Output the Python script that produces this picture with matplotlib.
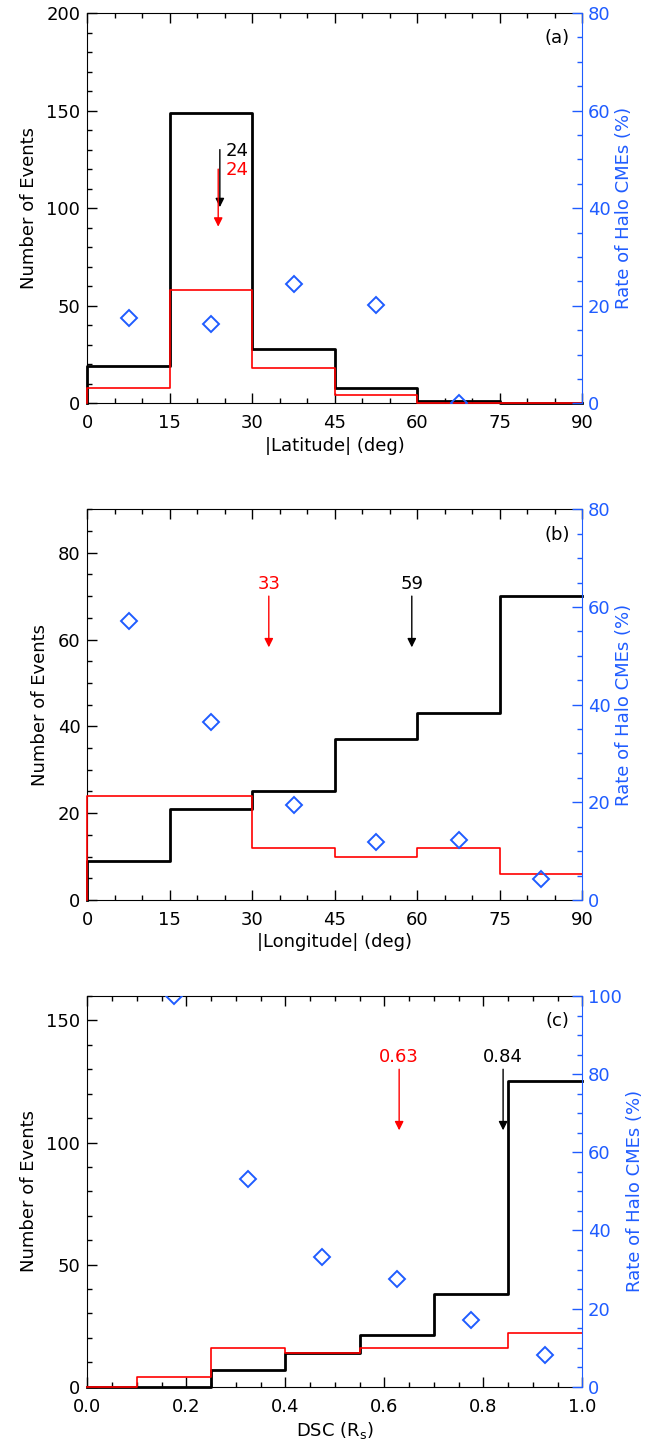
import numpy as np
import matplotlib.pyplot as plt
from matplotlib.ticker import MultipleLocator

plt.rcParams['font.family'] = 'DejaVu Sans'
plt.rcParams['font.size'] = 13

blue = '#1f5cff'

#===================== data ===================================================

# (a) |Latitude|
lat_edges = [0, 15, 30, 45, 60, 75, 90]
lat_all = [19, 149, 28, 8, 1, 0]
lat_halo = [8, 58, 18, 4, 0, 0]
lat_mid = [7.5, 22.5, 37.5, 52.5, 67.5]
lat_rate = [17.4, 16.3, 24.4, 20.1, 0]

# (b) |Longitude|
lon_edges = [0, 15, 30, 45, 60, 75, 90]
lon_all = [9, 21, 25, 37, 43, 70]
lon_halo = [24, 24, 12, 10, 12, 6]
lon_mid = [7.5, 22.5, 37.5, 52.5, 67.5, 82.5]
lon_rate = [57.1, 36.4, 19.4, 11.9, 12.3, 4.2]

# (c) DSC
dsc_edges = [0, 0.1, 0.25, 0.4, 0.55, 0.7, 0.85, 1.0]
dsc_all = [0, 0, 7, 14, 21, 38, 125]
dsc_halo = [0, 4, 16, 14, 16, 16, 22]
dsc_mid = [0.175, 0.325, 0.475, 0.625, 0.775, 0.925]
dsc_rate = [100, 53.2, 33.2, 27.6, 17.2, 8.0]

# median arrows: (x, y start, y tip, label)
lat_arr_all = (24.1, 130, 100.5, '24')
lat_arr_halo = (23.8, 120, 90.5, '24')
lon_arr_all = (59, 70, 58.2, '59')
lon_arr_halo = (33, 70, 58.2, '33')
dsc_arr_all = (0.84, 130, 105, '0.84')
dsc_arr_halo = (0.63, 130, 105, '0.63')

#===================== helpers ================================================

def arrow(ax, a, color):
    ax.annotate('', xy=(a[0], a[2]), xytext=(a[0], a[1]),
                arrowprops=dict(arrowstyle='-|>', color=color, lw=1.0,
                                mutation_scale=13, shrinkA=0, shrinkB=0))

def hist(ax, edges, n, **kw):
    # IDL-like histogram: rises from zero at the first edge, no closing line
    x = [edges[0]] + list(edges)
    y = [0] + list(n) + [n[-1]]
    ax.plot(x, y, drawstyle='steps-post', clip_on=False, **kw)

def panel(rect, edges, n_all, n_halo, mid, rate, ylim, rlim,
          xmaj, xmin, ymaj, ymin, rmaj, rmin, xlabel, tag):
    ax = fig.add_axes(rect)
    hist(ax, edges, n_all, color='k', lw=2.0, zorder=3)
    hist(ax, edges, n_halo, color='red', lw=1.2, zorder=4)
    ax.set_xlim(edges[0], edges[-1])
    ax.set_ylim(*ylim)
    ax.xaxis.set_major_locator(MultipleLocator(xmaj))
    ax.xaxis.set_minor_locator(MultipleLocator(xmin))
    ax.yaxis.set_major_locator(MultipleLocator(ymaj))
    ax.yaxis.set_minor_locator(MultipleLocator(ymin))
    ax.tick_params(which='both', direction='in', top=True, right=False)
    ax.tick_params(which='major', length=7, width=1)
    ax.tick_params(which='minor', length=3.5, width=1)
    ax.tick_params(axis='x', pad=8)
    ax.tick_params(axis='y', pad=5)
    ax.spines['right'].set_visible(False)
    ax.set_xlabel(xlabel, labelpad=3)
    ax.set_ylabel('Number of Events', labelpad=6)
    ax.text(0.95, 0.935, tag, transform=ax.transAxes, ha='center', va='center')

    rx = ax.twinx()
    rx.plot(mid, rate, 'D', ms=8.5, mfc='none', mec=blue, mew=1.4, zorder=5)
    rx.set_ylim(*rlim)
    rx.yaxis.set_major_locator(MultipleLocator(rmaj))
    rx.yaxis.set_minor_locator(MultipleLocator(rmin))
    rx.tick_params(which='both', direction='in', colors=blue, pad=4)
    rx.tick_params(which='major', length=7, width=1)
    rx.tick_params(which='minor', length=3.5, width=1)
    rx.spines['right'].set_color(blue)
    rx.spines['right'].set_zorder(10)
    for s in ['left', 'top', 'bottom']:
        rx.spines[s].set_visible(False)
    rx.set_ylabel('Rate of Halo CMEs (%)', color=blue, labelpad=3)
    return ax, rx

#===================== figure =================================================

fig = plt.figure(figsize=(6.52, 14.46), dpi=100)

ax, rx = panel([0.1339, 0.7211, 0.7592, 0.2699], lat_edges, lat_all, lat_halo,
               lat_mid, lat_rate, (0, 200), (0, 80), 15, 5, 50, 10, 20, 5,
               '|Latitude| (deg)', '(a)')
arrow(ax, lat_arr_all, 'k')
arrow(ax, lat_arr_halo, 'red')
ax.text(25.2, 134, lat_arr_all[3], color='k', ha='left', va='top')
ax.text(25.2, 124, lat_arr_halo[3], color='red', ha='left', va='top')

ax, rx = panel([0.1339, 0.3776, 0.7592, 0.2702], lon_edges, lon_all, lon_halo,
               lon_mid, lon_rate, (0, 90), (0, 80), 15, 5, 20, 5, 20, 5,
               '|Longitude| (deg)', '(b)')
ax.set_yticks([0, 20, 40, 60, 80])
arrow(ax, lon_arr_all, 'k')
arrow(ax, lon_arr_halo, 'red')
ax.text(59, 70.8, lon_arr_all[3], color='k', ha='center', va='bottom')
ax.text(33, 70.8, lon_arr_halo[3], color='red', ha='center', va='bottom')

ax, rx = panel([0.1339, 0.0410, 0.7592, 0.2702], dsc_edges, dsc_all, dsc_halo,
               dsc_mid, dsc_rate, (0, 160), (0, 100), 0.2, 0.05, 50, 10, 20, 5,
               r'DSC (R$_\mathregular{s}$)', '(c)')
ax.xaxis.set_major_formatter(lambda v, p: '%.1f' % v)
arrow(ax, dsc_arr_all, 'k')
arrow(ax, dsc_arr_halo, 'red')
ax.text(0.84, 131.5, dsc_arr_all[3], color='k', ha='center', va='bottom')
ax.text(0.63, 131.5, dsc_arr_halo[3], color='red', ha='center', va='bottom')

plt.savefig('out.png', dpi=100)
